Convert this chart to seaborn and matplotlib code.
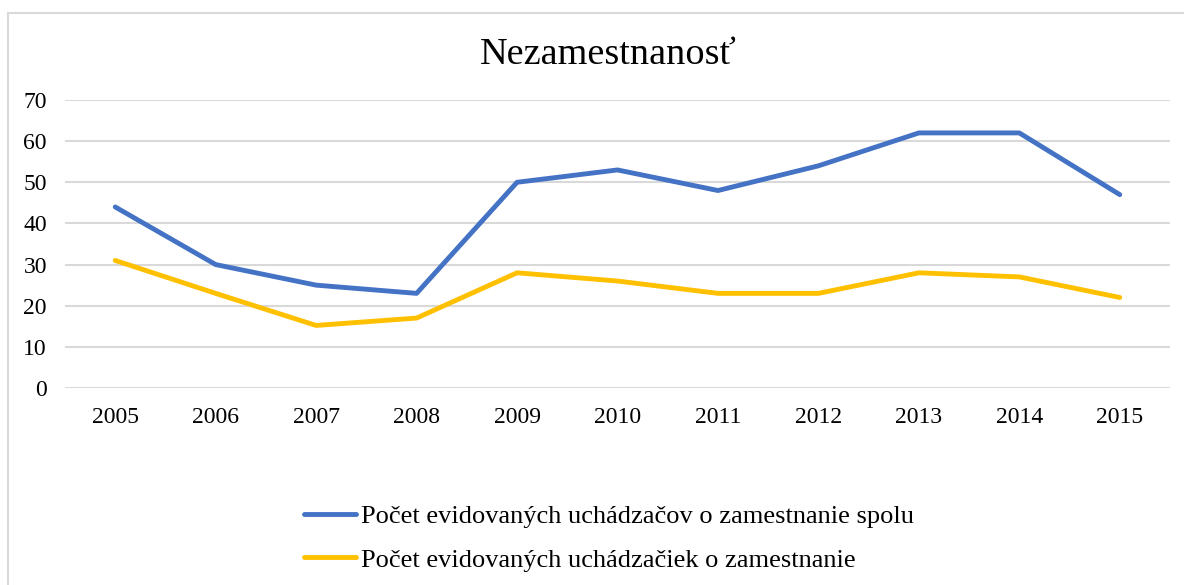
import pandas as pd
import matplotlib.pyplot as plt
import seaborn as sns
from matplotlib.lines import Line2D

# hodnoty odčítané z grafu
years = [2005, 2006, 2007, 2008, 2009, 2010, 2011, 2012, 2013, 2014, 2015]
spolu = [44, 30, 25, 23, 50, 53, 48, 54, 62, 62, 47]
zeny = [31, 23, 15.2, 17, 28, 26, 23, 23, 28, 27, 22]
series_names = ["Počet evidovaných uchádzačov o zamestnanie spolu",
                "Počet evidovaných uchádzačiek o zamestnanie"]
colors = ["#4472C4", "#FFC000"]
yticks = [0, 10, 20, 30, 40, 50, 60, 70]

df = pd.DataFrame({
    "rok": [str(y) for y in years] * 2,
    "hodnota": spolu + zeny,
    "rad": [series_names[0]] * len(years) + [series_names[1]] * len(years),
})

sns.set_style("white")
plt.rcParams["font.family"] = ["Liberation Serif", "DejaVu Serif"]
plt.rcParams["text.color"] = "black"

fig = plt.figure(figsize=(11.84, 5.85), dpi=100)
ax = fig.add_axes([65 / 1184, 1 - 388 / 585, (1170 - 65) / 1184, 288 / 585])

sns.lineplot(data=df, x="rok", y="hodnota", hue="rad", palette=colors,
             linewidth=3.5, sort=False, ax=ax, legend=False,
             solid_capstyle="round", solid_joinstyle="round")

ax.set_xlim(-0.5, len(years) - 0.5)
ax.set_ylim(0, 70)
ax.set_yticks(yticks)
ax.yaxis.grid(True, color="#d9d9d9", linewidth=1.5)
ax.xaxis.grid(False)
ax.set_axisbelow(True)
for s in ax.spines.values():
    s.set_visible(False)
ax.tick_params(axis="both", length=0, labelsize=17, labelcolor="black")
ax.tick_params(axis="y", pad=13)
ax.tick_params(axis="x", pad=14)
ax.set_xlabel("")
ax.set_ylabel("")

fig.text(608 / 1184, 1 - 55 / 585, "Nezamestnanosť", fontsize=27.5,
         ha="center", va="center", color="black")

handles = [Line2D([], [], color=c, linewidth=3.5, solid_capstyle="round") for c in colors]
leg = fig.legend(handles, series_names, loc="center", bbox_to_anchor=(609 / 1184, 1 - 538 / 585),
                 ncol=1, frameon=False, fontsize=19, handlelength=1.97, handletextpad=0.19,
                 labelspacing=0.76)
for t in leg.get_texts():
    t.set_color("black")

# okraj oblasti grafu
fig.add_artist(Line2D([8 / 1184, 1], [1 - 13 / 585, 1 - 13 / 585],
                      transform=fig.transFigure, color="#d9d9d9", linewidth=1.5))
fig.add_artist(Line2D([8 / 1184, 8 / 1184], [0, 1 - 13 / 585],
                      transform=fig.transFigure, color="#d9d9d9", linewidth=1.5))

fig.savefig("out.png", dpi=100)
